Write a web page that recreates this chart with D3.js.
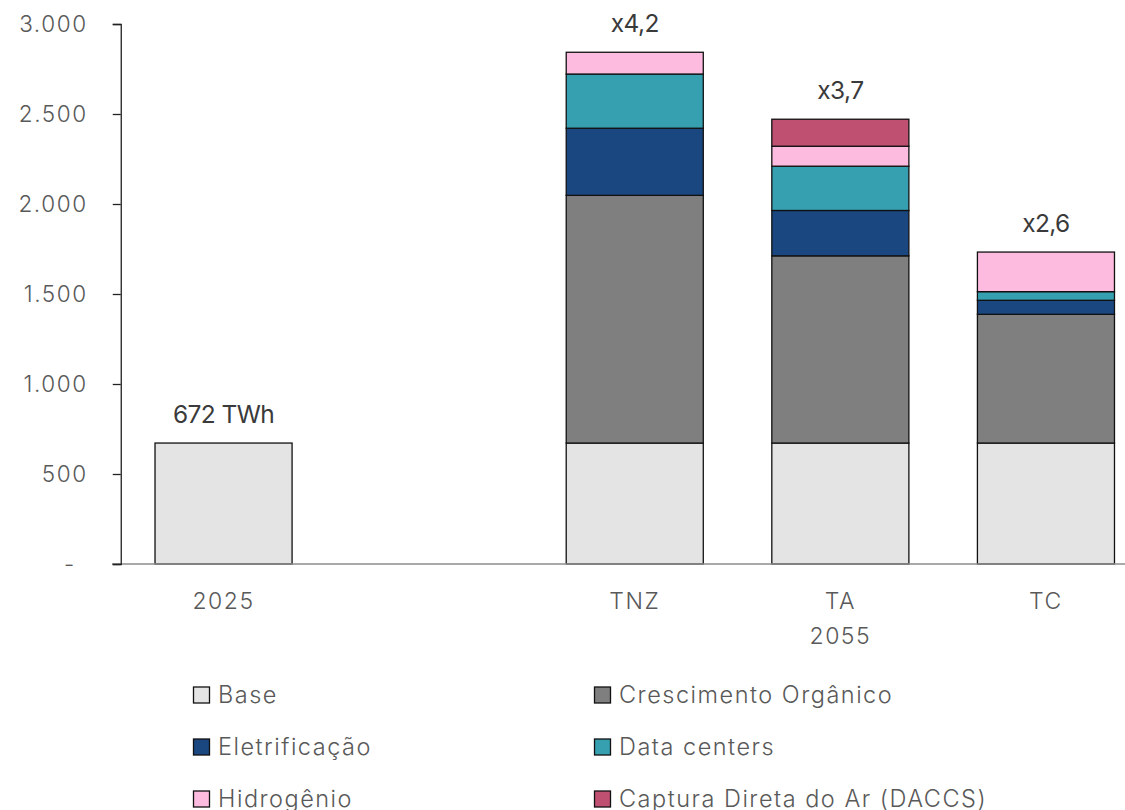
<!DOCTYPE html>
<html>
<head>
<meta charset="utf-8">
<script src="https://cdn.jsdelivr.net/npm/d3@7"></script>
<style>
  body { margin: 0; background: #fff; }
  text { font-family: Inter, "Open Sans", sans-serif; }
</style>
</head>
<body>
<div id="chart"></div>
<script>
// Data (TWh)
const categories = ["2025", "", "TNZ", "TA", "TC"];
const seriesNames = ["Base", "Crescimento Orgânico", "Eletrificação", "Data centers", "Hidrogênio", "Captura Direta do Ar (DACCS)"];
const baseValues = [672, 0, 672, 672, 672];
const organicValues = [0, 0, 1376, 1040, 715];
const electrificationValues = [0, 0, 373, 252, 78];
const dataCenterValues = [0, 0, 301, 246, 48];
const hydrogenValues = [0, 0, 121, 111, 220];
const daccsValues = [0, 0, 0, 150, 0];
const topLabels = ["672 TWh", "", "x4,2", "x3,7", "x2,6"];
const groupLabel = "2055";
const yTicks = [0, 500, 1000, 1500, 2000, 2500, 3000];

const colors = ["#e4e4e4", "#7f7f7f", "#1a4780", "#36a0b0", "#fdbbdf", "#c05072"];

const width = 1125, height = 810;
const margin = {top: 24, left: 120.75, bottom: 564};

const rows = categories.map((c, i) => ({
    cat: c,
    "Base": baseValues[i],
    "Crescimento Orgânico": organicValues[i],
    "Eletrificação": electrificationValues[i],
    "Data centers": dataCenterValues[i],
    "Hidrogênio": hydrogenValues[i],
    "Captura Direta do Ar (DACCS)": daccsValues[i]
}));

const x = d3.scaleBand()
    .domain(categories)
    .range([margin.left, margin.left + 5 * 205.6])
    .paddingInner(1 / 3)
    .paddingOuter(1 / 6);

const y = d3.scaleLinear().domain([0, 3000]).range([margin.bottom, margin.top]);

const color = d3.scaleOrdinal().domain(seriesNames).range(colors);

const locale = d3.formatLocale({decimal: ",", thousands: ".", grouping: [3], currency: ["", ""]});
const fmt = locale.format(",.0f");

const svg = d3.select("#chart").append("svg")
    .attr("width", width)
    .attr("height", height);

// stacked bars
const stacked = d3.stack().keys(seriesNames)(rows);

svg.append("g").selectAll("g")
    .data(stacked)
    .enter().append("g")
    .attr("fill", d => color(d.key))
    .selectAll("rect")
    .data(d => d.filter(s => s[1] - s[0] > 0))
    .enter().append("rect")
    .attr("x", d => x(d.data.cat))
    .attr("y", d => y(d[1]))
    .attr("width", x.bandwidth())
    .attr("height", d => y(d[0]) - y(d[1]))
    .attr("stroke", "#111")
    .attr("stroke-width", 1.3);

// x axis line
svg.append("line")
    .attr("x1", 112).attr("x2", width)
    .attr("y1", y(0)).attr("y2", y(0))
    .attr("stroke", "#8c8c8c")
    .attr("stroke-width", 1.3);

// y axis
const yAxis = svg.append("g")
    .attr("transform", "translate(" + margin.left + ",0)")
    .call(d3.axisLeft(y).tickValues(yTicks).tickSize(8).tickPadding(25)
        .tickFormat(d => d === 0 ? "-" : fmt(d)));

yAxis.select(".domain").attr("stroke", "#222").attr("stroke-width", 1.3);
yAxis.selectAll(".tick line").attr("stroke", "#222").attr("stroke-width", 1.3);
yAxis.selectAll(".tick text")
    .attr("fill", "#595959")
    .style("font-size", "22.5px")
    .style("font-weight", 300)
    .style("letter-spacing", "1.6px")
    .attr("dx", d => d === 0 ? -12 : 0);

// category labels
svg.append("g").selectAll("text")
    .data(categories.filter(c => c !== ""))
    .enter().append("text")
    .attr("x", d => x(d) + x.bandwidth() / 2)
    .attr("y", 609)
    .attr("text-anchor", "middle")
    .attr("fill", "#595959")
    .style("font-size", "23px")
    .style("font-weight", 300)
    .style("letter-spacing", "1.5px")
    .text(d => d);

svg.append("text")
    .attr("x", x("TA") + x.bandwidth() / 2)
    .attr("y", 644)
    .attr("text-anchor", "middle")
    .attr("fill", "#595959")
    .style("font-size", "23px")
    .style("font-weight", 300)
    .style("letter-spacing", "1.5px")
    .text(groupLabel);

// totals above the bars
svg.append("g").selectAll("text")
    .data(rows)
    .enter().append("text")
    .attr("x", d => x(d.cat) + x.bandwidth() / 2)
    .attr("y", d => y(d3.sum(seriesNames, k => d[k])) - 20)
    .attr("text-anchor", "middle")
    .attr("fill", "#3a3a3a")
    .style("font-size", "24.5px")
    .style("letter-spacing", "-0.6px")
    .text((d, i) => topLabels[i]);

// legend
const legend = svg.append("g").selectAll("g")
    .data(seriesNames)
    .enter().append("g")
    .attr("transform", (d, i) => "translate(" + (i % 2 === 0 ? 193 : 594) + "," + (703 + Math.floor(i / 2) * 52) + ")");

legend.append("rect")
    .attr("x", 0.5).attr("y", -16)
    .attr("width", 16).attr("height", 16)
    .attr("fill", d => color(d))
    .attr("stroke", "#111")
    .attr("stroke-width", 1.3);

legend.append("text")
    .attr("x", 25)
    .attr("y", 0)
    .attr("fill", "#595959")
    .style("font-size", "23.5px")
    .style("font-weight", 300)
    .style("letter-spacing", "1.5px")
    .text(d => d);
</script>
</body>
</html>
